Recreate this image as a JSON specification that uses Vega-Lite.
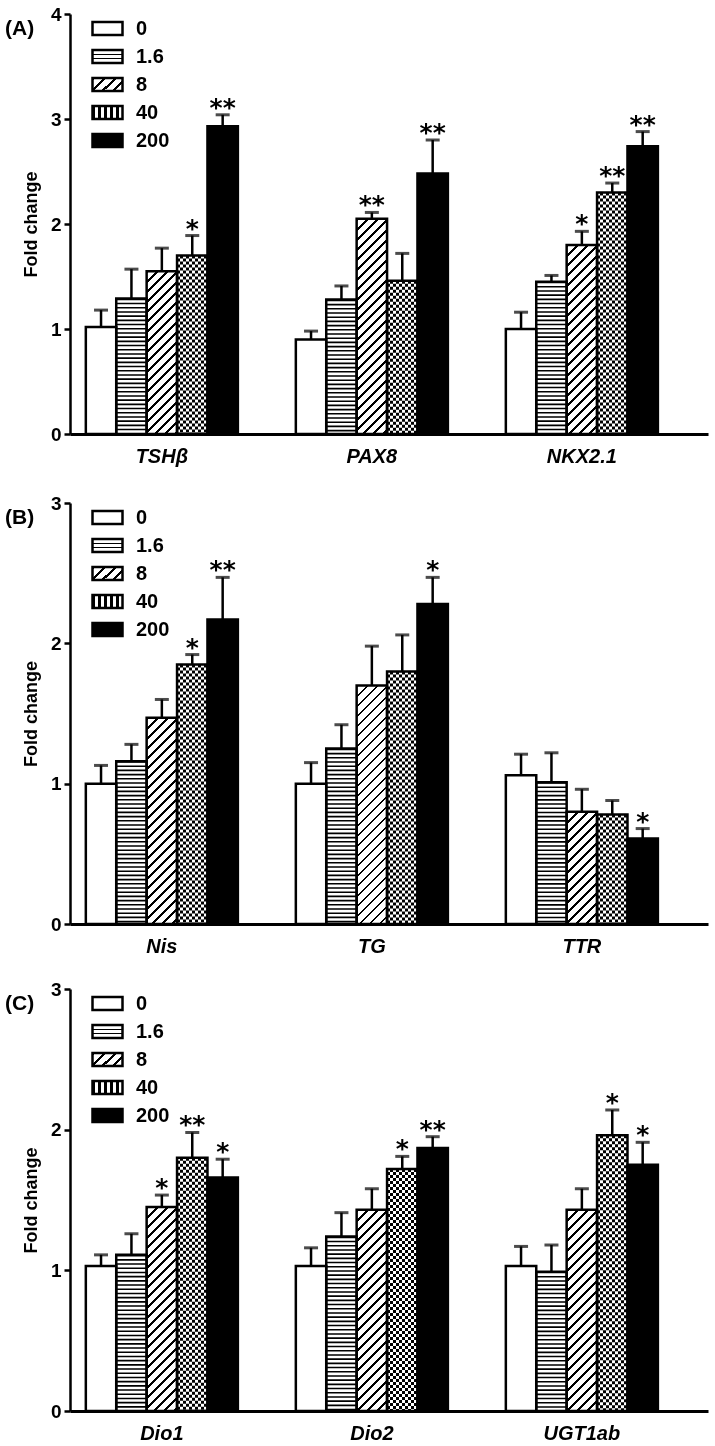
{
"$schema":"https://vega.github.io/schema/vega-lite/v6.json",
"padding":5,
"background":"white",
"params":[
{"name":"g16","value":{"gradient":"linear","x1":0,"y1":0,"x2":0,"y2":1,"stops":[{"offset":0,"color":"#fff"},{"offset":0.27,"color":"#fff"},{"offset":0.27,"color":"#000"},{"offset":0.4,"color":"#000"},{"offset":0.4,"color":"#fff"},{"offset":0.6,"color":"#fff"},{"offset":0.6,"color":"#000"},{"offset":0.73,"color":"#000"},{"offset":0.73,"color":"#fff"},{"offset":1,"color":"#fff"}]}},
{"name":"g8","value":{"gradient":"linear","x1":0,"y1":0,"x2":1.207,"y2":0.52,"stops":[{"offset":0,"color":"#000"},{"offset":0.07,"color":"#000"},{"offset":0.07,"color":"#fff"},{"offset":0.25,"color":"#fff"},{"offset":0.25,"color":"#000"},{"offset":0.32,"color":"#000"},{"offset":0.32,"color":"#fff"},{"offset":0.5,"color":"#fff"},{"offset":0.5,"color":"#000"},{"offset":0.57,"color":"#000"},{"offset":0.57,"color":"#fff"},{"offset":0.75,"color":"#fff"},{"offset":0.75,"color":"#000"},{"offset":0.82,"color":"#000"},{"offset":0.82,"color":"#fff"},{"offset":1,"color":"#fff"}]}},
{"name":"g40","value":{"gradient":"linear","x1":0,"y1":0,"x2":1,"y2":0,"stops":[{"offset":0,"color":"#000"},{"offset":0.1,"color":"#000"},{"offset":0.1,"color":"#fff"},{"offset":0.2,"color":"#fff"},{"offset":0.2,"color":"#000"},{"offset":0.3,"color":"#000"},{"offset":0.3,"color":"#fff"},{"offset":0.4,"color":"#fff"},{"offset":0.4,"color":"#000"},{"offset":0.5,"color":"#000"},{"offset":0.5,"color":"#fff"},{"offset":0.6,"color":"#fff"},{"offset":0.6,"color":"#000"},{"offset":0.7,"color":"#000"},{"offset":0.7,"color":"#fff"},{"offset":0.8,"color":"#fff"},{"offset":0.8,"color":"#000"},{"offset":0.9,"color":"#000"},{"offset":0.9,"color":"#fff"},{"offset":1,"color":"#fff"}]}},
{"name":"hatch","value":[
{"offset":0,"color":"#000"},{"offset":0.01,"color":"#000"},{"offset":0.01,"color":"#fff"},{"offset":0.03571,"color":"#fff"},
{"offset":0.03571,"color":"#000"},{"offset":0.04571,"color":"#000"},{"offset":0.04571,"color":"#fff"},{"offset":0.07143,"color":"#fff"},
{"offset":0.07143,"color":"#000"},{"offset":0.08143,"color":"#000"},{"offset":0.08143,"color":"#fff"},{"offset":0.10714,"color":"#fff"},
{"offset":0.10714,"color":"#000"},{"offset":0.11714,"color":"#000"},{"offset":0.11714,"color":"#fff"},{"offset":0.14286,"color":"#fff"},
{"offset":0.14286,"color":"#000"},{"offset":0.15286,"color":"#000"},{"offset":0.15286,"color":"#fff"},{"offset":0.17857,"color":"#fff"},
{"offset":0.17857,"color":"#000"},{"offset":0.18857,"color":"#000"},{"offset":0.18857,"color":"#fff"},{"offset":0.21429,"color":"#fff"},
{"offset":0.21429,"color":"#000"},{"offset":0.22429,"color":"#000"},{"offset":0.22429,"color":"#fff"},{"offset":0.25,"color":"#fff"},
{"offset":0.25,"color":"#000"},{"offset":0.26,"color":"#000"},{"offset":0.26,"color":"#fff"},{"offset":0.28571,"color":"#fff"},
{"offset":0.28571,"color":"#000"},{"offset":0.29571,"color":"#000"},{"offset":0.29571,"color":"#fff"},{"offset":0.32143,"color":"#fff"},
{"offset":0.32143,"color":"#000"},{"offset":0.33143,"color":"#000"},{"offset":0.33143,"color":"#fff"},{"offset":0.35714,"color":"#fff"},
{"offset":0.35714,"color":"#000"},{"offset":0.36714,"color":"#000"},{"offset":0.36714,"color":"#fff"},{"offset":0.39286,"color":"#fff"},
{"offset":0.39286,"color":"#000"},{"offset":0.40286,"color":"#000"},{"offset":0.40286,"color":"#fff"},{"offset":0.42857,"color":"#fff"},
{"offset":0.42857,"color":"#000"},{"offset":0.43857,"color":"#000"},{"offset":0.43857,"color":"#fff"},{"offset":0.46429,"color":"#fff"},
{"offset":0.46429,"color":"#000"},{"offset":0.47429,"color":"#000"},{"offset":0.47429,"color":"#fff"},{"offset":0.5,"color":"#fff"},
{"offset":0.5,"color":"#000"},{"offset":0.51,"color":"#000"},{"offset":0.51,"color":"#fff"},{"offset":0.53571,"color":"#fff"},
{"offset":0.53571,"color":"#000"},{"offset":0.54571,"color":"#000"},{"offset":0.54571,"color":"#fff"},{"offset":0.57143,"color":"#fff"},
{"offset":0.57143,"color":"#000"},{"offset":0.58143,"color":"#000"},{"offset":0.58143,"color":"#fff"},{"offset":0.60714,"color":"#fff"},
{"offset":0.60714,"color":"#000"},{"offset":0.61714,"color":"#000"},{"offset":0.61714,"color":"#fff"},{"offset":0.64286,"color":"#fff"},
{"offset":0.64286,"color":"#000"},{"offset":0.65286,"color":"#000"},{"offset":0.65286,"color":"#fff"},{"offset":0.67857,"color":"#fff"},
{"offset":0.67857,"color":"#000"},{"offset":0.68857,"color":"#000"},{"offset":0.68857,"color":"#fff"},{"offset":0.71429,"color":"#fff"},
{"offset":0.71429,"color":"#000"},{"offset":0.72429,"color":"#000"},{"offset":0.72429,"color":"#fff"},{"offset":0.75,"color":"#fff"},
{"offset":0.75,"color":"#000"},{"offset":0.76,"color":"#000"},{"offset":0.76,"color":"#fff"},{"offset":0.78571,"color":"#fff"},
{"offset":0.78571,"color":"#000"},{"offset":0.79571,"color":"#000"},{"offset":0.79571,"color":"#fff"},{"offset":0.82143,"color":"#fff"},
{"offset":0.82143,"color":"#000"},{"offset":0.83143,"color":"#000"},{"offset":0.83143,"color":"#fff"},{"offset":0.85714,"color":"#fff"},
{"offset":0.85714,"color":"#000"},{"offset":0.86714,"color":"#000"},{"offset":0.86714,"color":"#fff"},{"offset":0.89286,"color":"#fff"},
{"offset":0.89286,"color":"#000"},{"offset":0.90286,"color":"#000"},{"offset":0.90286,"color":"#fff"},{"offset":0.92857,"color":"#fff"},
{"offset":0.92857,"color":"#000"},{"offset":0.93857,"color":"#000"},{"offset":0.93857,"color":"#fff"},{"offset":0.96429,"color":"#fff"},
{"offset":0.96429,"color":"#000"},{"offset":0.97429,"color":"#000"},{"offset":0.97429,"color":"#fff"},{"offset":1,"color":"#fff"}
]}],
"data":{"values":[
{"p":"A","gene":"TSHβ","dose":"0","mean":1.02,"upper":1.18,"sig":""},
{"p":"A","gene":"TSHβ","dose":"1.6","mean":1.29,"upper":1.57,"sig":""},
{"p":"A","gene":"TSHβ","dose":"8","mean":1.55,"upper":1.77,"sig":""},
{"p":"A","gene":"TSHβ","dose":"40","mean":1.70,"upper":1.89,"sig":"*"},
{"p":"A","gene":"TSHβ","dose":"200","mean":2.93,"upper":3.04,"sig":"**"},
{"p":"A","gene":"PAX8","dose":"0","mean":0.90,"upper":0.98,"sig":""},
{"p":"A","gene":"PAX8","dose":"1.6","mean":1.28,"upper":1.41,"sig":""},
{"p":"A","gene":"PAX8","dose":"8","mean":2.05,"upper":2.11,"sig":"**"},
{"p":"A","gene":"PAX8","dose":"40","mean":1.46,"upper":1.72,"sig":""},
{"p":"A","gene":"PAX8","dose":"200","mean":2.48,"upper":2.80,"sig":"**"},
{"p":"A","gene":"NKX2.1","dose":"0","mean":1.00,"upper":1.16,"sig":""},
{"p":"A","gene":"NKX2.1","dose":"1.6","mean":1.45,"upper":1.51,"sig":""},
{"p":"A","gene":"NKX2.1","dose":"8","mean":1.80,"upper":1.93,"sig":"*"},
{"p":"A","gene":"NKX2.1","dose":"40","mean":2.30,"upper":2.39,"sig":"**"},
{"p":"A","gene":"NKX2.1","dose":"200","mean":2.74,"upper":2.88,"sig":"**"},
{"p":"B","gene":"Nis","dose":"0","mean":1.00,"upper":1.13,"sig":""},
{"p":"B","gene":"Nis","dose":"1.6","mean":1.16,"upper":1.28,"sig":""},
{"p":"B","gene":"Nis","dose":"8","mean":1.47,"upper":1.60,"sig":""},
{"p":"B","gene":"Nis","dose":"40","mean":1.85,"upper":1.92,"sig":"*"},
{"p":"B","gene":"Nis","dose":"200","mean":2.17,"upper":2.47,"sig":"**"},
{"p":"B","gene":"TG","dose":"0","mean":1.00,"upper":1.15,"sig":""},
{"p":"B","gene":"TG","dose":"1.6","mean":1.25,"upper":1.42,"sig":""},
{"p":"B","gene":"TG","dose":"8","mean":1.70,"upper":1.98,"sig":""},
{"p":"B","gene":"TG","dose":"40","mean":1.80,"upper":2.06,"sig":""},
{"p":"B","gene":"TG","dose":"200","mean":2.28,"upper":2.47,"sig":"*"},
{"p":"B","gene":"TTR","dose":"0","mean":1.06,"upper":1.21,"sig":""},
{"p":"B","gene":"TTR","dose":"1.6","mean":1.01,"upper":1.22,"sig":""},
{"p":"B","gene":"TTR","dose":"8","mean":0.80,"upper":0.96,"sig":""},
{"p":"B","gene":"TTR","dose":"40","mean":0.78,"upper":0.88,"sig":""},
{"p":"B","gene":"TTR","dose":"200","mean":0.61,"upper":0.68,"sig":"*"},
{"p":"C","gene":"Dio1","dose":"0","mean":1.03,"upper":1.11,"sig":""},
{"p":"C","gene":"Dio1","dose":"1.6","mean":1.11,"upper":1.26,"sig":""},
{"p":"C","gene":"Dio1","dose":"8","mean":1.45,"upper":1.535,"sig":"*"},
{"p":"C","gene":"Dio1","dose":"40","mean":1.80,"upper":1.98,"sig":"**"},
{"p":"C","gene":"Dio1","dose":"200","mean":1.66,"upper":1.79,"sig":"*"},
{"p":"C","gene":"Dio2","dose":"0","mean":1.03,"upper":1.16,"sig":""},
{"p":"C","gene":"Dio2","dose":"1.6","mean":1.24,"upper":1.41,"sig":""},
{"p":"C","gene":"Dio2","dose":"8","mean":1.43,"upper":1.58,"sig":""},
{"p":"C","gene":"Dio2","dose":"40","mean":1.72,"upper":1.81,"sig":"*"},
{"p":"C","gene":"Dio2","dose":"200","mean":1.87,"upper":1.95,"sig":"**"},
{"p":"C","gene":"UGT1ab","dose":"0","mean":1.03,"upper":1.17,"sig":""},
{"p":"C","gene":"UGT1ab","dose":"1.6","mean":0.99,"upper":1.18,"sig":""},
{"p":"C","gene":"UGT1ab","dose":"8","mean":1.43,"upper":1.58,"sig":""},
{"p":"C","gene":"UGT1ab","dose":"40","mean":1.96,"upper":2.14,"sig":"*"},
{"p":"C","gene":"UGT1ab","dose":"200","mean":1.75,"upper":1.91,"sig":"*"}
]},
"config":{
 "font":"Liberation Sans",
 "view":{"stroke":null},
 "axis":{"domainColor":"black","tickColor":"black","labelColor":"black","titleColor":"black","labelFontWeight":"bold","titleFontWeight":"bold","grid":false,"labelFlush":false,"labelOverlap":false},
 "axisY":{"domainWidth":2.5,"tickWidth":2.5,"tickSize":6,"labelFontSize":19,"labelPadding":3,"titleFontSize":18,"titlePadding":10,"format":"d"},
 "axisX":{"domainWidth":3,"ticks":false,"labelAngle":0,"labelFontSize":20,"labelFontStyle":"italic","labelPadding":12},
 "title":{"anchor":"start","frame":"group","fontSize":21,"fontWeight":"bold","color":"black","dx":-65,"dy":38,"offset":0,"baseline":"alphabetic"},
 "legend":{"orient":"none","legendX":21,"legendY":-2,"title":null,"symbolType":"M-1,-0.43H1V0.43H-1Z","symbolSize":900,"symbolStrokeWidth":2.5,"symbolStrokeColor":"black","labelFontSize":20,"labelFontWeight":"bold","labelColor":"black","labelOffset":12,"rowPadding":-0.3,"padding":0}
},
"resolve":{"scale":{"stroke":"independent"},"legend":{"stroke":"independent"}},
"spacing":28,
"vconcat":[
{
 "width":638,"height":420,
 "title":{"text":"(A)"},
 "transform":[{"filter":"datum.p==='A'"}],
 "encoding":{
  "x":{"field":"gene","type":"nominal","sort":["TSHβ","PAX8","NKX2.1"],"scale":{"paddingInner":0.276,"paddingOuter":0.157,"align":0.24},"axis":{"title":null}},
  "xOffset":{"field":"dose","type":"nominal","sort":["0","1.6","8","40","200"],"scale":{"paddingInner":0,"paddingOuter":0}}
 },
 "layer":[
  {"mark":{"type":"bar","strokeWidth":0},"encoding":{
    "y":{"field":"mean","type":"quantitative","title":"Fold change","scale":{"domain":[0,4],"nice":false},"axis":{"values":[0,1,2,3,4]}},
    "fill":{"condition":{"test":"datum.dose==='200'","value":"black"},"value":"white"},
    "stroke":{"field":"dose","type":"nominal","sort":["0","1.6","8","40","200"],"scale":{"domain":["0","1.6","8","40","200"],"range":["black","black","black","black","black"]},
      "legend":{"title":null,"encoding":{"symbols":{"stroke":{"value":"black"},"strokeWidth":{"value":2.5},"fill":{"value":{"expr":"datum.value==='1.6' ? g16 : datum.value==='8' ? g8 : datum.value==='40' ? g40 : datum.value==='200' ? 'black' : 'white'"}}}}}}}},
  {"transform":[{"filter":"datum.dose==='8'"}],"mark":{"type":"bar","strokeWidth":0},"encoding":{
    "y":{"field":"mean","type":"quantitative","title":"Fold change"},
    "fill":{"value":{"expr":"{gradient:'linear',x1:0,y1:0,x2:280*30.4/(924.16+pow(datum.mean*105,2)),y2:280*datum.mean*105/(924.16+pow(datum.mean*105,2)),stops:hatch}"}}}},
  {"transform":[{"filter":"datum.dose==='40'"}],"mark":{"type":"bar","strokeWidth":0,"fill":{"expr":"g40"}},"encoding":{
    "y":{"field":"mean","type":"quantitative","title":"Fold change"}}},
  {"transform":[{"filter":"datum.dose==='1.6'"}],"mark":{"type":"rule","color":"black","strokeWidth":30.4,"strokeDash":[1.6,2.6]},"encoding":{
    "y":{"field":"mean","type":"quantitative","title":"Fold change"},"y2":{"datum":0}}},
  {"transform":[{"filter":"datum.dose==='40'"}],"mark":{"type":"rule","color":"white","strokeWidth":30.4,"strokeDash":[3,3],"blend":"difference"},"encoding":{
    "y":{"field":"mean","type":"quantitative","title":"Fold change"},"y2":{"datum":0}}},
  {"mark":{"type":"bar","fill":"white","fillOpacity":0,"stroke":"black","strokeWidth":2.5},"encoding":{
    "y":{"field":"mean","type":"quantitative","title":"Fold change"}}},
  {"mark":{"type":"rule","color":"black","strokeWidth":2.5},"encoding":{
    "y":{"field":"mean","type":"quantitative","title":"Fold change"},"y2":{"field":"upper"}}},
  {"mark":{"type":"tick","color":"black","size":14,"thickness":3},"encoding":{
    "y":{"field":"upper","type":"quantitative","title":"Fold change"}}},
  {"transform":[{"filter":"datum.sig!==''"}],"mark":{"type":"text","font":"DejaVu Sans","fontWeight":"bold","fontSize":25,"baseline":"alphabetic","dy":1,"color":"black"},"encoding":{
    "y":{"field":"upper","type":"quantitative","title":"Fold change"},"text":{"field":"sig"}}}
 ]
},
{
"spacing":24,
"resolve":{"scale":{"stroke":"independent"},"legend":{"stroke":"independent"}},
"vconcat":[
{
 "width":638,"height":421,
 "title":{"text":"(B)"},
 "transform":[{"filter":"datum.p==='B'"}],
 "encoding":{
  "x":{"field":"gene","type":"nominal","sort":["Nis","TG","TTR"],"scale":{"paddingInner":0.276,"paddingOuter":0.157,"align":0.24},"axis":{"title":null}},
  "xOffset":{"field":"dose","type":"nominal","sort":["0","1.6","8","40","200"],"scale":{"paddingInner":0,"paddingOuter":0}}
 },
 "layer":[
  {"mark":{"type":"bar","strokeWidth":0},"encoding":{
    "y":{"field":"mean","type":"quantitative","title":"Fold change","scale":{"domain":[0,3],"nice":false},"axis":{"values":[0,1,2,3]}},
    "fill":{"condition":{"test":"datum.dose==='200'","value":"black"},"value":"white"},
    "stroke":{"field":"dose","type":"nominal","sort":["0","1.6","8","40","200"],"scale":{"domain":["0","1.6","8","40","200"],"range":["black","black","black","black","black"]},
      "legend":{"title":null,"encoding":{"symbols":{"stroke":{"value":"black"},"strokeWidth":{"value":2.5},"fill":{"value":{"expr":"datum.value==='1.6' ? g16 : datum.value==='8' ? g8 : datum.value==='40' ? g40 : datum.value==='200' ? 'black' : 'white'"}}}}}}}},
  {"transform":[{"filter":"datum.dose==='8'"}],"mark":{"type":"bar","strokeWidth":0},"encoding":{
    "y":{"field":"mean","type":"quantitative","title":"Fold change"},
    "fill":{"value":{"expr":"{gradient:'linear',x1:0,y1:0,x2:280*30.4/(924.16+pow(datum.mean*140.33,2)),y2:280*datum.mean*140.33/(924.16+pow(datum.mean*140.33,2)),stops:hatch}"}}}},
  {"transform":[{"filter":"datum.dose==='40'"}],"mark":{"type":"bar","strokeWidth":0,"fill":{"expr":"g40"}},"encoding":{
    "y":{"field":"mean","type":"quantitative","title":"Fold change"}}},
  {"transform":[{"filter":"datum.dose==='1.6'"}],"mark":{"type":"rule","color":"black","strokeWidth":30.4,"strokeDash":[1.6,2.6]},"encoding":{
    "y":{"field":"mean","type":"quantitative","title":"Fold change"},"y2":{"datum":0}}},
  {"transform":[{"filter":"datum.dose==='40'"}],"mark":{"type":"rule","color":"white","strokeWidth":30.4,"strokeDash":[3,3],"blend":"difference"},"encoding":{
    "y":{"field":"mean","type":"quantitative","title":"Fold change"},"y2":{"datum":0}}},
  {"mark":{"type":"bar","fill":"white","fillOpacity":0,"stroke":"black","strokeWidth":2.5},"encoding":{
    "y":{"field":"mean","type":"quantitative","title":"Fold change"}}},
  {"mark":{"type":"rule","color":"black","strokeWidth":2.5},"encoding":{
    "y":{"field":"mean","type":"quantitative","title":"Fold change"},"y2":{"field":"upper"}}},
  {"mark":{"type":"tick","color":"black","size":14,"thickness":3},"encoding":{
    "y":{"field":"upper","type":"quantitative","title":"Fold change"}}},
  {"transform":[{"filter":"datum.sig!==''"}],"mark":{"type":"text","font":"DejaVu Sans","fontWeight":"bold","fontSize":25,"baseline":"alphabetic","dy":1,"color":"black"},"encoding":{
    "y":{"field":"upper","type":"quantitative","title":"Fold change"},"text":{"field":"sig"}}}
 ]
},
{
 "width":638,"height":422,
 "title":{"text":"(C)"},
 "transform":[{"filter":"datum.p==='C'"}],
 "encoding":{
  "x":{"field":"gene","type":"nominal","sort":["Dio1","Dio2","UGT1ab"],"scale":{"paddingInner":0.276,"paddingOuter":0.157,"align":0.24},"axis":{"title":null}},
  "xOffset":{"field":"dose","type":"nominal","sort":["0","1.6","8","40","200"],"scale":{"paddingInner":0,"paddingOuter":0}}
 },
 "layer":[
  {"mark":{"type":"bar","strokeWidth":0},"encoding":{
    "y":{"field":"mean","type":"quantitative","title":"Fold change","scale":{"domain":[0,3],"nice":false},"axis":{"values":[0,1,2,3]}},
    "fill":{"condition":{"test":"datum.dose==='200'","value":"black"},"value":"white"},
    "stroke":{"field":"dose","type":"nominal","sort":["0","1.6","8","40","200"],"scale":{"domain":["0","1.6","8","40","200"],"range":["black","black","black","black","black"]},
      "legend":{"title":null,"encoding":{"symbols":{"stroke":{"value":"black"},"strokeWidth":{"value":2.5},"fill":{"value":{"expr":"datum.value==='1.6' ? g16 : datum.value==='8' ? g8 : datum.value==='40' ? g40 : datum.value==='200' ? 'black' : 'white'"}}}}}}}},
  {"transform":[{"filter":"datum.dose==='8'"}],"mark":{"type":"bar","strokeWidth":0},"encoding":{
    "y":{"field":"mean","type":"quantitative","title":"Fold change"},
    "fill":{"value":{"expr":"{gradient:'linear',x1:0,y1:0,x2:280*30.4/(924.16+pow(datum.mean*140.67,2)),y2:280*datum.mean*140.67/(924.16+pow(datum.mean*140.67,2)),stops:hatch}"}}}},
  {"transform":[{"filter":"datum.dose==='40'"}],"mark":{"type":"bar","strokeWidth":0,"fill":{"expr":"g40"}},"encoding":{
    "y":{"field":"mean","type":"quantitative","title":"Fold change"}}},
  {"transform":[{"filter":"datum.dose==='1.6'"}],"mark":{"type":"rule","color":"black","strokeWidth":30.4,"strokeDash":[1.6,2.6]},"encoding":{
    "y":{"field":"mean","type":"quantitative","title":"Fold change"},"y2":{"datum":0}}},
  {"transform":[{"filter":"datum.dose==='40'"}],"mark":{"type":"rule","color":"white","strokeWidth":30.4,"strokeDash":[3,3],"blend":"difference"},"encoding":{
    "y":{"field":"mean","type":"quantitative","title":"Fold change"},"y2":{"datum":0}}},
  {"mark":{"type":"bar","fill":"white","fillOpacity":0,"stroke":"black","strokeWidth":2.5},"encoding":{
    "y":{"field":"mean","type":"quantitative","title":"Fold change"}}},
  {"mark":{"type":"rule","color":"black","strokeWidth":2.5},"encoding":{
    "y":{"field":"mean","type":"quantitative","title":"Fold change"},"y2":{"field":"upper"}}},
  {"mark":{"type":"tick","color":"black","size":14,"thickness":3},"encoding":{
    "y":{"field":"upper","type":"quantitative","title":"Fold change"}}},
  {"transform":[{"filter":"datum.sig!==''"}],"mark":{"type":"text","font":"DejaVu Sans","fontWeight":"bold","fontSize":25,"baseline":"alphabetic","dy":1,"color":"black"},"encoding":{
    "y":{"field":"upper","type":"quantitative","title":"Fold change"},"text":{"field":"sig"}}}
 ]
}
]}
]
}
